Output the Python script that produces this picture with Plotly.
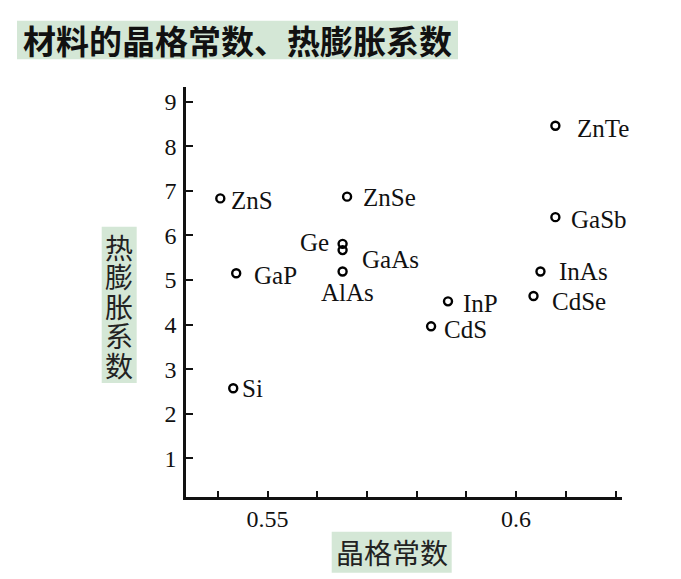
import plotly.graph_objects as go

# Data
materials = ["ZnS", "GaP", "Si", "ZnSe", "Ge", "GaAs", "AlAs",
             "ZnTe", "GaSb", "InAs", "CdSe", "InP", "CdS"]
lattice_const = [0.5405, 0.5437, 0.5431, 0.5660, 0.5651, 0.5651, 0.5651,
                 0.6079, 0.6079, 0.6049, 0.6035, 0.5863, 0.5829]
thermal_exp = [6.83, 5.15, 2.57, 6.87, 5.81, 5.67, 5.19,
               8.46, 6.41, 5.19, 4.64, 4.52, 3.96]

x_tickvals = [0.54, 0.55, 0.56, 0.57, 0.58, 0.59, 0.60, 0.61, 0.62]
x_ticktext = ["", "0.55", "", "", "", "", "0.6", "", ""]
y_tickvals = [1, 2, 3, 4, 5, 6, 7, 8, 9]

title_text = "材料的晶格常数、热膨胀系数"
x_title = "晶格常数"
y_title_chars = ["热", "膨", "胀", "系", "数"]

# label offsets in screen pixels: (anchor, dx, dy-down)
label_pos = {
    "ZnS": ("left", 9, 2), "GaP": ("left", 16, 2), "Si": ("left", 7, 0),
    "ZnSe": ("left", 14, 1), "Ge": ("right", -12, -1), "GaAs": ("left", 17, 9),
    "AlAs": ("center", 5, 21), "ZnTe": ("left", 20, 3), "GaSb": ("left", 14, 2),
    "InAs": ("left", 17, 0), "CdSe": ("left", 16, 5), "InP": ("left", 13, 2),
    "CdS": ("left", 11, 3),
}

BG = "#d4e7d6"
SERIF = "Liberation Serif"
CJK = "Noto Sans CJK SC"

# page offset of the plot div (default body margin)
OFF = 8
PAGE_W, PAGE_H = 681, 579
W, H = PAGE_W - OFF, PAGE_H - OFF
# plot area in page pixels: x 186..622, y 87..497
ML, MT = 186 - OFF, 87 - OFF
MR, MB = PAGE_W - 622, PAGE_H - 497
PW, PH = W - ML - MR, H - MT - MB


def px(x):  # page pixel -> paper x
    return (x - OFF - ML) / PW


def py(y):  # page pixel -> paper y
    return (H - MB - (y - OFF)) / PH


fig = go.Figure()
fig.add_trace(go.Scatter(
    x=lattice_const, y=thermal_exp, mode="markers",
    marker=dict(symbol="circle-open", size=8, color="black",
                line=dict(width=2.4, color="black")),
    hoverinfo="text", text=materials, showlegend=False,
))

annotations = []
for name, xv, yv in zip(materials, lattice_const, thermal_exp):
    anc, dx, dy = label_pos[name]
    annotations.append(dict(
        x=xv, y=yv, xref="x", yref="y", text=name, showarrow=False,
        xanchor=anc, yanchor="middle", xshift=dx, yshift=-dy,
        font=dict(family=SERIF, size=25, color="#111"),
    ))

# Title
annotations.append(dict(
    x=px(237.5), y=py(40), xref="paper", yref="paper", text=title_text,
    showarrow=False, xanchor="center", yanchor="middle",
    font=dict(family=CJK, size=33, color="#111", weight="bold"),
))
# X title
annotations.append(dict(
    x=px(391.7), y=py(552.2), xref="paper", yref="paper", text=x_title,
    showarrow=False, xanchor="center", yanchor="middle",
    font=dict(family=CJK, size=28, color="#222"),
))
# Y title (vertical, one char per line, tightly stacked as in the reference)
for i, ch in enumerate(y_title_chars):
    annotations.append(dict(
        x=px(119), y=py(246.5 + 29.5 * i), xref="paper", yref="paper", text=ch,
        showarrow=False, xanchor="center", yanchor="middle",
        font=dict(family=CJK, size=28, color="#222"),
    ))

shapes = [
    dict(type="rect", xref="paper", yref="paper", x0=px(17), x1=px(458),
         y0=py(59.3), y1=py(20.7), fillcolor=BG, line=dict(width=0), layer="below"),
    dict(type="rect", xref="paper", yref="paper", x0=px(331.7), x1=px(451.7),
         y0=py(572.7), y1=py(531.7), fillcolor=BG, line=dict(width=0), layer="below"),
    dict(type="rect", xref="paper", yref="paper", x0=px(101.7), x1=px(136.7),
         y0=py(383), y1=py(226.7), fillcolor=BG, line=dict(width=0), layer="below"),
]

fig.update_layout(
    width=W, height=H,
    margin=dict(l=ML, r=MR, t=MT, b=MB, pad=0),
    paper_bgcolor="white", plot_bgcolor="white",
    annotations=annotations, shapes=shapes,
    xaxis=dict(
        range=[0.5336, 0.6213], tickvals=x_tickvals, ticktext=x_ticktext,
        showgrid=False, zeroline=False, showline=True, linecolor="#111",
        linewidth=2.5, ticks="inside", ticklen=6, tickwidth=2, tickcolor="#111",
        tickfont=dict(family=SERIF, size=24, color="#111"), ticklabelstandoff=-2,
    ),
    yaxis=dict(
        range=[0.13, 9.33], tickvals=y_tickvals,
        showgrid=False, zeroline=False, showline=True, linecolor="#111",
        linewidth=2.5, ticks="inside", ticklen=7, tickwidth=2, tickcolor="#111",
        tickfont=dict(family=SERIF, size=24, color="#111"), ticklabelstandoff=2,
    ),
)

fig.write_html("out.html")
